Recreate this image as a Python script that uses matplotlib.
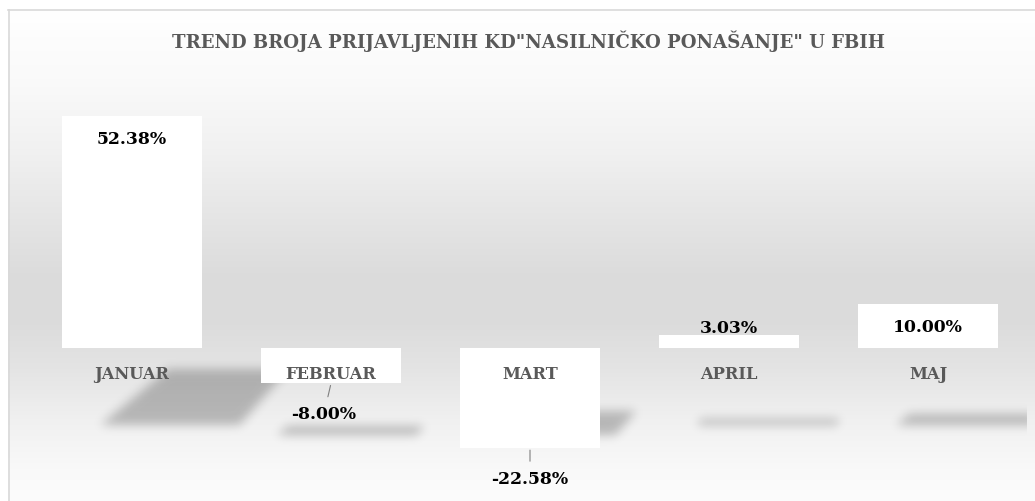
import numpy as np
import matplotlib
matplotlib.use("Agg")
import matplotlib.pyplot as plt
from matplotlib.path import Path

# ---- data ----
categories = ["JANUAR", "FEBRUAR", "MART", "APRIL", "MAJ"]
values = [52.38, -8.00, -22.58, 3.03, 10.00]
value_labels = ["52.38%", "-8.00%", "-22.58%", "3.03%", "10.00%"]
title = 'TREND BROJA PRIJAVLJENIH KD"NASILNIČKO PONAŠANJE" U FBIH'

# ---- style ----
W, H = 1035, 502
FONT = "DejaVu Serif"
GRAY_TXT = "#595959"

fig = plt.figure(figsize=(W / 100, H / 100), dpi=100)
fig.patch.set_facecolor("white")

# background axes (pixel coordinates)
bg = fig.add_axes([0, 0, 1, 1], zorder=0)
bg.set_xlim(0, W)
bg.set_ylim(0, H)
bg.axis("off")

# vertical gradient inside chart area
stops_y = [10, 80, 150, 220, 280, 320, 370, 420, 470, 502]
stops_g = [255, 250, 241, 229, 219, 219, 228, 240, 249, 252]
rows = np.arange(H) + 0.5
g = np.interp(rows, stops_y, stops_g) / 255.0
img = np.ones((H, W, 3))
img[10:, 8:, :] = g[10:, None, None]
bg.imshow(img, extent=[0, W, 0, H], origin="upper", zorder=0, interpolation="nearest")
bg.plot([8, W], [H - 10.5, H - 10.5], color="#d9d9d9", lw=1.2, zorder=3)
bg.plot([8.5, 8.5], [0, H - 10.5], color="#d9d9d9", lw=1.2, zorder=3)

# main axes
x_left, x_right = 32.5, 1027.5
base_px, ppu = 349.0, 4.43
ymin, ymax = -30, 60
top_px = base_px - ymax * ppu
bot_px = base_px - ymin * ppu
ax = fig.add_axes([x_left / W, (H - bot_px) / H, (x_right - x_left) / W, (bot_px - top_px) / H], zorder=2)
ax.set_xlim(-0.5, len(categories) - 0.5)
ax.set_ylim(ymin, ymax)
ax.patch.set_alpha(0)
ax.axis("off")

x = np.arange(len(categories))
bar_w = 0.70
ax.bar(x, values, width=bar_w, color="white", edgecolor="none", zorder=2)

# ---- blurred perspective shadows (derived from the bars) ----
shadow_k = 0.24
mask = np.zeros((H, W))
yy, xx = np.mgrid[0:H, 0:W]
pts = np.column_stack([xx.ravel() + 0.5, (H - yy.ravel() - 0.5)])
for xi, v in zip(x, values):
    s = shadow_k * abs(v)
    if v >= 0:
        floor = -17.4
        off = 0.19
    else:
        floor = -19.6
        off = 0.08
    h = max(s, 1.4)
    shift = 0.0232 * s
    half_b = bar_w / 2
    half_t = bar_w / 2 * (1 - 0.011 * s)
    cb = xi + off
    ct = cb + shift
    poly = [(cb - half_b, floor), (cb + half_b, floor), (ct + half_t, floor + h), (ct - half_t, floor + h)]
    disp = ax.transData.transform(poly)
    p = Path(disp)
    mask += p.contains_points(pts).reshape(H, W)
mask = np.clip(mask, 0, 1)

sigma = 5.0
k = np.arange(-15, 16)
kern = np.exp(-k ** 2 / (2 * sigma ** 2))
kern /= kern.sum()
pad = 15
m = np.pad(mask, pad)
tmp = sum(w * m[pad + o:pad + o + H, :] for o, w in zip(k, kern))
m2 = sum(w * tmp[:, pad + o:pad + o + W] for o, w in zip(k, kern))
m2[:, int(x_right):] = 0
shadow = np.zeros((H, W, 4))
shadow[..., 3] = 0.24 * m2
bg.imshow(shadow, extent=[0, W, 0, H], origin="upper", zorder=1, interpolation="bilinear")

# ---- labels ----
px2pt = 0.72
inset = 23 / ppu
min_pos = 20 / ppu
for xi, v, lab in zip(x, values, value_labels):
    if v >= 0:
        ax.text(xi, max(v - inset, min_pos), lab, ha="center", va="center",
                fontsize=12.4, fontweight="bold", family=FONT, color="black", zorder=4)

neg_dx = {1: -7}
for xi, v, lab in zip(x, values, value_labels):
    if v < 0:
        dx = neg_dx.get(int(xi), 0) * px2pt
        ax.annotate(lab, xy=(xi, v), xytext=(dx, -30 * px2pt), textcoords="offset points",
                    ha="center", va="center", fontsize=12.4, fontweight="bold", family=FONT,
                    color="black", zorder=4,
                    arrowprops=dict(arrowstyle="-", color="#7f7f7f", lw=0.8, shrinkA=4, shrinkB=1.5))

for xi, cat in zip(x, categories):
    ax.annotate(cat, xy=(xi, 0), xytext=(0, -26 * px2pt), textcoords="offset points",
                ha="center", va="center", fontsize=11.7, fontweight="bold", family=FONT,
                color=GRAY_TXT, zorder=4)

fig.text(528 / W, 1 - 41.5 / H, title, ha="center", va="center", fontsize=13.1,
         fontweight="bold", family=FONT, color=GRAY_TXT)

fig.savefig("out.png", dpi=100, facecolor="white")
